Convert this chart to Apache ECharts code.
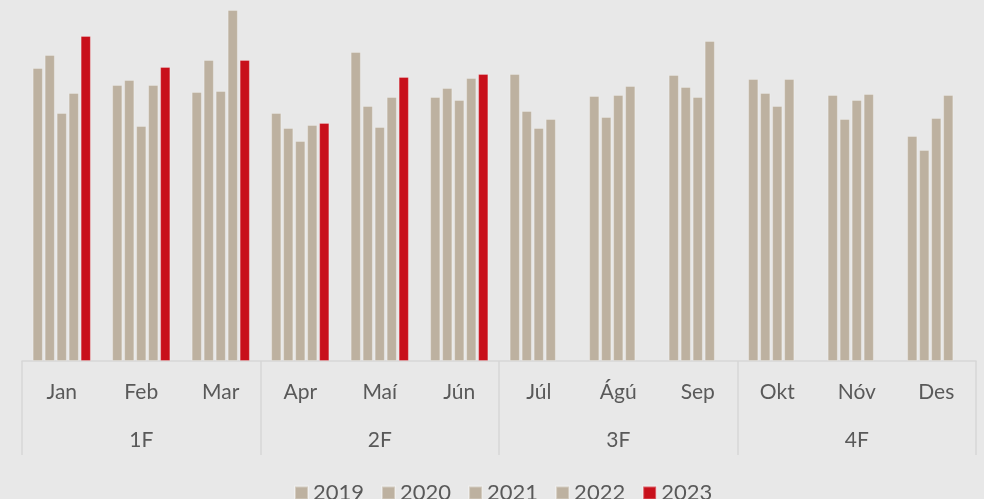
<!DOCTYPE html>
<html>
<head>
<meta charset="utf-8">
<script src="https://cdn.jsdelivr.net/npm/echarts@6/dist/echarts.min.js"></script>
<style>
html,body{margin:0;padding:0;background:#e8e8e8;}
#c{width:984px;height:499px;}
</style>
</head>
<body>
<div id="c"></div>
<script>
const months = ['Jan','Feb','Mar','Apr','Maí','Jún','Júl','Ágú','Sep','Okt','Nóv','Des'];
const quarters = ['1F','2F','3F','4F'];
const years = ['2019','2020','2021','2022','2023'];
const s2019 = [293,276,269,248,309,264,287,265,286,282,266,225];
const s2020 = [306,281,301,233,255,273,250,244,274,268,242,211];
const s2021 = [248,235,270,220,234,261,233,266,264,255,261,243];
const s2022 = [268,276,351,236,264,283,242,275,320,282,267,266];
const s2023 = [325,294,301,238,284,287,null,null,null,null,null,null];
const seriesData = [s2019,s2020,s2021,s2022,s2023];
const beige = '#bdb1a0';
const red = '#c8101b';
const colors = [beige,beige,beige,beige,red];
const font = 'Lato, "Open Sans", sans-serif';

const chart = echarts.init(document.getElementById('c'));
chart.setOption({
  backgroundColor:'#e8e8e8',
  animation:false,
  grid:{left:22,right:8,top:1,bottom:138},
  legend:{
    top:477, left:289,
    itemWidth:13,itemHeight:13,itemGap:17,
    icon:'rect',
    textStyle:{fontFamily:font,fontSize:22,color:'#595959',lineHeight:22},
    data:years
  },
  xAxis:[{
    type:'category',data:months,position:'bottom',
    axisLine:{show:true,lineStyle:{color:'#d6d6d6',width:1.5}},
    axisTick:{show:false},
    axisLabel:{fontFamily:font,fontSize:21,color:'#595959',margin:21,lineHeight:21}
  },{
    type:'category',data:quarters,position:'bottom',
    axisLine:{show:false},
    axisTick:{show:true,length:94,interval:0,lineStyle:{color:'#d6d6d6',width:1.5}},
    axisLabel:{fontFamily:font,fontSize:21,color:'#595959',margin:69,lineHeight:21}
  }],
  yAxis:{type:'value',min:0,max:360,show:false,splitLine:{show:false}},
  series: years.map((y,i)=>({
    name:y,type:'bar',xAxisIndex:0,data:seriesData[i],
    barWidth:10,barGap:'20%',
    itemStyle:{color:colors[i],borderColor:'rgba(255,255,255,0.35)',borderWidth:0.8}
  }))
});
</script>
</body>
</html>
